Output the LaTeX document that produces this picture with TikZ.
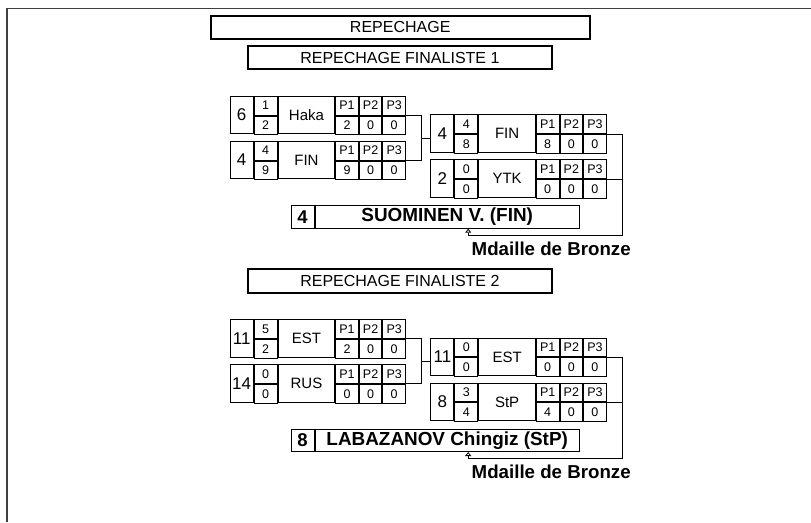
\documentclass[tikz,border=0pt]{standalone}
\usepackage{fontspec}
\setmainfont{Liberation Sans}
\usetikzlibrary{arrows.meta,calc}
\newcommand{\seedfont}{\fontsize{17}{17}\selectfont}
\newcommand{\teamfont}{\fontsize{15}{15}\selectfont}
\newcommand{\smallfont}{\fontsize{12.5}{12.5}\selectfont}
\tikzset{
  cell/.style={draw=black, line width=1pt, inner sep=0pt, anchor=north west, font=\smallfont},
  pcell/.style={minimum width=22.6pt, minimum height=18.8pt},
  title/.style={draw=black, line width=2pt, inner sep=0pt, minimum height=23.3pt, font=\fontsize{16}{16}\selectfont},
  conn/.style={draw=black, line width=1pt},
  winarrow/.style={conn, -{Triangle[open, length=4pt, width=6pt, line width=0.8pt]}},
  medal/.style={font=\fontsize{18.7}{18.7}\selectfont\bfseries, inner sep=0pt},
  frameline/.style={draw=black!75, line width=1.5pt}
}
\newcommand{\matchbox}[9]{%
  \node[cell, minimum width=23pt, minimum height=37.6pt, font=\seedfont] (#1-seed) at (#2) {#3};
  \node[cell, minimum width=23pt, minimum height=18.8pt] (#1-s1) at (#1-seed.north east) {#4};
  \node[cell, minimum width=23pt, minimum height=18.8pt] (#1-s2) at (#1-s1.south west) {#5};
  \node[cell, minimum width=56.5pt, minimum height=37.6pt, font=\teamfont] (#1-team) at (#1-s1.north east) {#6};
  \node[cell, pcell] (#1-p1) at (#1-team.north east) {P1};
  \node[cell, pcell] (#1-p2) at (#1-p1.north east) {P2};
  \node[cell, pcell] (#1-p3) at (#1-p2.north east) {P3};
  \node[cell, pcell] (#1-v1) at (#1-p1.south west) {#7};
  \node[cell, pcell] (#1-v2) at (#1-v1.north east) {#8};
  \node[cell, pcell] (#1-v3) at (#1-v2.north east) {#9};
}
\newcommand{\resultbox}[4]{%
  \node[cell, minimum width=22.8pt, minimum height=22.4pt, font=\fontsize{18.5}{18.5}\selectfont\bfseries] (#1-seed) at (#2) {#3};
  \node[cell, minimum width=264.4pt, minimum height=22.4pt, font=\fontsize{18.9}{18.9}\selectfont\bfseries] (#1-name) at (#1-seed.north east) {#4};
}
\begin{document}
\begin{tikzpicture}[x=1pt, y=-1pt]
\useasboundingbox (0,0) rectangle (811,522);
\draw[frameline] (811,8.3) -- (7,8.3) -- (7,522);

\node[title, minimum width=379.3pt] (rep) at (400.2,27.3) {REPECHAGE};
\node[title, minimum width=303.2pt] (rf1) at (399.9,57.7) {REPECHAGE FINALISTE 1};

% Section 1
\matchbox{A1}{229.7,95.7}{6}{1}{2}{Haka}{2}{0}{0}
\matchbox{A2}{229.7,140.7}{4}{4}{9}{FIN}{9}{0}{0}
\matchbox{B1}{430.4,114.3}{4}{4}{8}{FIN}{8}{0}{0}
\matchbox{B2}{430.4,159.3}{2}{0}{0}{YTK}{0}{0}{0}
\resultbox{R1}{290.7,205.3}{4}{SUOMINEN V. (FIN)}
\node[medal] (M1) at (551.2,249) {Mdaille de Bronze};

\draw[conn] (A1-v3.north east) -- ++(15,0) coordinate (A1j) |- (A2-v3.north east);
\coordinate (J1) at ($(A1j)!0.5!(A1j |- A2-v3.north east)$);
\draw[conn] (J1) -- (J1 -| B1-seed.west);
\coordinate (T1) at (468.2,235.3);
\draw[winarrow] (B1-v3.north east) -- ++(15.6,0) coordinate (B1j) -- (B1j |- T1) -- (T1) -- (T1 |- R1-name.south);
\draw[conn] (B2-v3.north east) -- (B2-v3.north east -| B1j);

% Section 2
\node[title, minimum width=303.2pt] (rf2) at (399.9,281) {REPECHAGE FINALISTE 2};
\matchbox{C1}{229.7,319}{11}{5}{2}{EST}{2}{0}{0}
\matchbox{C2}{229.7,364}{14}{0}{0}{RUS}{0}{0}{0}
\matchbox{D1}{430.4,337.6}{11}{0}{0}{EST}{0}{0}{0}
\matchbox{D2}{430.4,382.6}{8}{3}{4}{StP}{4}{0}{0}
\resultbox{R2}{290.7,428.6}{8}{LABAZANOV Chingiz (StP)}
\node[medal] (M2) at (551.2,472.3) {Mdaille de Bronze};

\draw[conn] (C1-v3.north east) -- ++(15,0) coordinate (C1j) |- (C2-v3.north east);
\coordinate (J2) at ($(C1j)!0.5!(C1j |- C2-v3.north east)$);
\draw[conn] (J2) -- (J2 -| D1-seed.west);
\coordinate (T2) at (468.2,458.6);
\draw[winarrow] (D1-v3.north east) -- ++(15.6,0) coordinate (D1j) -- (D1j |- T2) -- (T2) -- (T2 |- R2-name.south);
\draw[conn] (D2-v3.north east) -- (D2-v3.north east -| D1j);
\end{tikzpicture}
\end{document}
